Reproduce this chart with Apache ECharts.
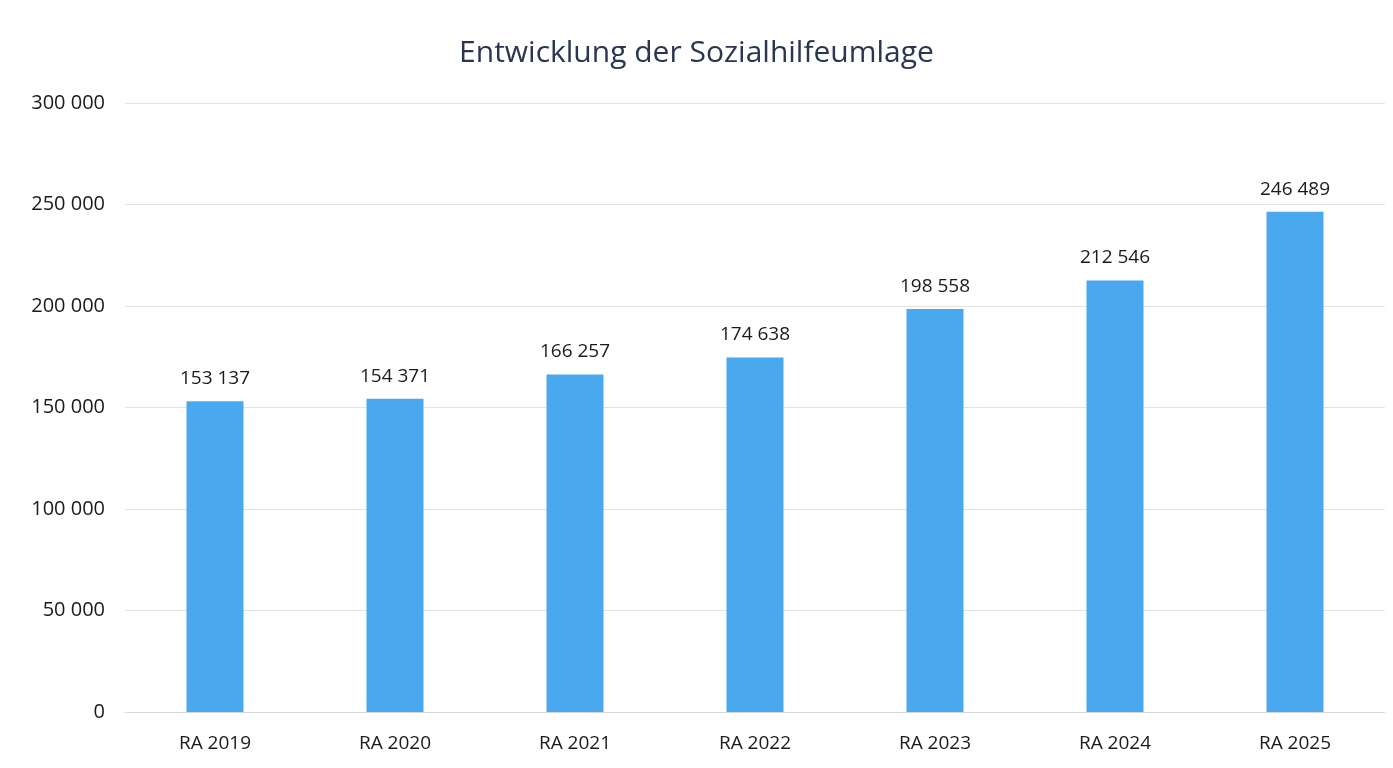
<!DOCTYPE html>
<html>
<head>
<meta charset="utf-8">
<script src="https://cdn.jsdelivr.net/npm/echarts@6/dist/echarts.min.js"></script>
<style>
  html, body { margin: 0; padding: 0; background: #fff; }
  #chart { width: 1393px; height: 768px; }
</style>
</head>
<body>
<div id="chart"></div>
<script>
// data
const categories = ['RA 2019', 'RA 2020', 'RA 2021', 'RA 2022', 'RA 2023', 'RA 2024', 'RA 2025'];
const values = [153137, 154371, 166257, 174638, 198558, 212546, 246489];
const yTicks = [0, 50000, 100000, 150000, 200000, 250000, 300000];

// thousands separated by a space, like the source
function fmt(v) {
  return String(v).replace(/\B(?=(\d{3})+(?!\d))/g, ' ');
}

const chart = echarts.init(document.getElementById('chart'));
chart.setOption({
  backgroundColor: '#fff',
  animation: false,
  title: {
    text: 'Entwicklung der Sozialhilfeumlage',
    left: 'center',
    top: 33,
    textStyle: { fontFamily: 'Open Sans', fontSize: 30, fontWeight: 'normal', color: '#2a3550' }
  },
  grid: { left: 125, right: 8, top: 103, bottom: 56 },
  xAxis: {
    type: 'category',
    data: categories,
    axisLine: { lineStyle: { color: '#d9d9d9' } },
    axisTick: { show: false },
    axisLabel: { color: '#1a1a1a', fontFamily: 'Open Sans', fontSize: 19, margin: 22 }
  },
  yAxis: {
    type: 'value',
    min: yTicks[0],
    max: yTicks[yTicks.length - 1],
    interval: yTicks[1] - yTicks[0],
    axisLine: { show: false },
    axisTick: { show: false },
    splitLine: { lineStyle: { color: '#e3e3e3' } },
    axisLabel: { color: '#1a1a1a', fontFamily: 'Open Sans', fontSize: 20, margin: 20, formatter: fmt }
  },
  series: [{
    type: 'bar',
    data: values,
    barWidth: 57,
    itemStyle: { color: '#4aa8ee' },
    label: {
      show: true,
      position: 'top',
      distance: 13,
      color: '#1a1a1a',
      fontFamily: 'Open Sans',
      fontSize: 19,
      formatter: p => fmt(p.value)
    }
  }]
});
</script>
</body>
</html>
